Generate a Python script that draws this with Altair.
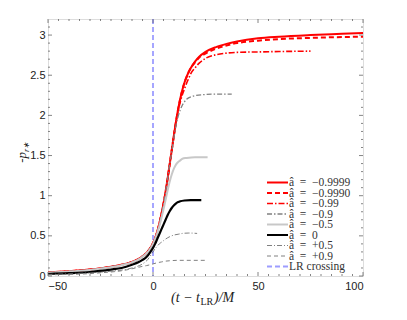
import altair as alt
import pandas as pd

# ---------------- data ----------------
x_m9999 = [-50, -40, -30, -25, -20, -15, -10, -7, -5, -3, -1, 0, 1, 2, 3, 4, 5, 6, 7, 8, 9, 10, 11, 12, 13, 14, 15, 16, 17, 18, 20, 22, 25, 30, 35, 40, 50, 60, 75, 90, 100]
y_m9999 = [0.045, 0.06, 0.08, 0.095, 0.115, 0.14, 0.175, 0.21, 0.245, 0.29, 0.36, 0.41, 0.47, 0.55, 0.65, 0.77, 0.9, 1.05, 1.22, 1.4, 1.58, 1.76, 1.93, 2.08, 2.21, 2.32, 2.41, 2.48, 2.54, 2.59, 2.67, 2.73, 2.79, 2.85, 2.89, 2.92, 2.96, 2.98, 3.0, 3.015, 3.025]

x_m9990 = [-50, -40, -30, -25, -20, -15, -10, -7, -5, -3, -1, 0, 1, 2, 3, 4, 5, 6, 7, 8, 9, 10, 11, 12, 13, 14, 15, 16, 17, 18, 20, 22, 25, 30, 35, 40, 50, 60, 75, 90, 100]
y_m9990 = [0.045, 0.06, 0.08, 0.095, 0.115, 0.14, 0.175, 0.21, 0.245, 0.29, 0.36, 0.41, 0.47, 0.55, 0.65, 0.77, 0.9, 1.05, 1.22, 1.4, 1.58, 1.76, 1.93, 2.08, 2.21, 2.32, 2.41, 2.48, 2.54, 2.59, 2.66, 2.72, 2.77, 2.83, 2.87, 2.9, 2.93, 2.95, 2.965, 2.975, 2.98]

x_m99 = [-50, -40, -30, -25, -20, -15, -10, -7, -5, -3, -1, 0, 1, 2, 3, 4, 5, 6, 7, 8, 9, 10, 11, 12, 13, 14, 15, 16, 17, 18, 20, 22, 25, 30, 35, 40, 50, 60, 75]
y_m99 = [0.045, 0.06, 0.08, 0.095, 0.115, 0.14, 0.175, 0.21, 0.245, 0.29, 0.36, 0.41, 0.47, 0.55, 0.65, 0.77, 0.9, 1.05, 1.22, 1.4, 1.58, 1.76, 1.92, 2.06, 2.17, 2.26, 2.33, 2.40, 2.46, 2.52, 2.59, 2.65, 2.71, 2.755, 2.775, 2.785, 2.79, 2.795, 2.80]

x_m9 = [-50, -40, -30, -25, -20, -15, -10, -7, -5, -3, -1, 0, 1, 2, 3, 4, 5, 6, 7, 8, 9, 10, 11, 12, 13, 14, 15, 16, 18, 20, 25, 30, 37.5]
y_m9 = [0.045, 0.06, 0.08, 0.095, 0.115, 0.14, 0.175, 0.21, 0.245, 0.29, 0.36, 0.41, 0.47, 0.55, 0.65, 0.77, 0.9, 1.05, 1.22, 1.4, 1.56, 1.73, 1.88, 1.99, 2.07, 2.13, 2.17, 2.2, 2.23, 2.245, 2.26, 2.265, 2.265]

x_m5 = [-50, -40, -30, -25, -20, -15, -10, -7, -5, -3, -1, 0, 1, 2, 3, 4, 5, 6, 7, 8, 9, 10, 11, 12, 13, 14, 16, 20, 26]
y_m5 = [0.04, 0.055, 0.075, 0.09, 0.11, 0.135, 0.17, 0.205, 0.24, 0.285, 0.35, 0.40, 0.46, 0.53, 0.62, 0.72, 0.83, 0.95, 1.07, 1.18, 1.27, 1.34, 1.39, 1.42, 1.44, 1.46, 1.47, 1.48, 1.48]

x_0 = [-50, -40, -30, -25, -20, -15, -10, -7, -5, -3, -1, 0, 1, 2, 3, 4, 5, 6, 7, 8, 9, 10, 11, 12, 13, 15, 18, 23]
y_0 = [0.025, 0.035, 0.05, 0.063, 0.08, 0.1, 0.14, 0.17, 0.2, 0.24, 0.31, 0.35, 0.4, 0.46, 0.52, 0.58, 0.64, 0.7, 0.76, 0.81, 0.85, 0.88, 0.905, 0.92, 0.93, 0.94, 0.945, 0.945]

x_p5 = [-50, -40, -30, -20, -10, -5, -3, -1, 0, 1, 2, 3, 4, 5, 6, 8, 10, 12, 14, 17, 21]
y_p5 = [0.02, 0.03, 0.04, 0.06, 0.1, 0.15, 0.19, 0.26, 0.3, 0.34, 0.37, 0.4, 0.42, 0.44, 0.46, 0.49, 0.51, 0.52, 0.53, 0.535, 0.53]

x_p9 = [-50, -40, -30, -25, -20, -15, -10, -5, -3, 0, 2, 4, 6, 8, 12, 18, 25]
y_p9 = [0.015, 0.02, 0.03, 0.04, 0.05, 0.065, 0.09, 0.12, 0.13, 0.15, 0.165, 0.175, 0.185, 0.19, 0.195, 0.195, 0.195]

lr_x = [0]

legend_labels = ["â\u2002=\u2002−0.9999", "â\u2002=\u2002−0.9990", "â\u2002=\u2002−0.99",
                 "â\u2002=\u2002−0.9", "â\u2002=\u2002−0.5", "â\u2002=\u20020",
                 "â\u2002=\u2002+0.5", "â\u2002=\u2002+0.9", "LR crossing"]

x_major = [-50, 0, 50, 100]
x_minor = [-45, -40, -35, -30, -25, -20, -15, -10, -5, 5, 10, 15, 20, 25, 30, 35, 40, 45,
           55, 60, 65, 70, 75, 80, 85, 90, 95]
y_major = [0, 0.5, 1, 1.5, 2, 2.5, 3]
y_minor = [0.1, 0.2, 0.3, 0.4, 0.6, 0.7, 0.8, 0.9, 1.1, 1.2, 1.3, 1.4, 1.6, 1.7, 1.8, 1.9,
           2.1, 2.2, 2.3, 2.4, 2.6, 2.7, 2.8, 2.9, 3.1]

# ---------------- styles ----------------
W, H = 315, 257
xs = alt.Scale(domain=[-50, 100], nice=False, zero=False)
ys = alt.Scale(domain=[0, 3.2], nice=False, zero=False)
xa = alt.Axis(values=x_major, ticks=False, domain=False, grid=False,
              labelFont="Liberation Sans", labelFontSize=11, labelColor="#222",
              labelPadding=4, title=None)
ya = alt.Axis(values=y_major, format="~g", ticks=False, domain=False, grid=False,
              labelFont="Liberation Sans", labelFontSize=11, labelColor="#222",
              labelPadding=3, title=None)
X = lambda f: alt.X(f, scale=xs, axis=xa)
Y = lambda f: alt.Y(f, scale=ys, axis=ya)

series = [
    (x_m9999, y_m9999, "#ff0000", 2.0, None),
    (x_m9990, y_m9990, "#ff0000", 2.0, [5, 3]),
    (x_m99, y_m99, "#ff0000", 1.6, [6, 2, 1.5, 2]),
    (x_m9, y_m9, "#808080", 1.3, [5, 2, 1.5, 2]),
    (x_m5, y_m5, "#c8c8c8", 2.0, None),
    (x_0, y_0, "#000000", 2.2, None),
    (x_p5, y_p5, "#606060", 0.8, [5, 2, 1, 2]),
    (x_p9, y_p9, "#808080", 1.0, [4, 3]),
]
lr_style = ("#9d9dff", 1.8, [5, 3])

layers = []

# LR crossing vertical line
layers.append(
    alt.Chart(pd.DataFrame({"x": lr_x}))
    .mark_rule(color=lr_style[0], strokeWidth=lr_style[1], strokeDash=lr_style[2])
    .encode(x=X("x:Q"), y=alt.value(0), y2=alt.value(H))
)

for xv, yv, col, sw, dash in series:
    df = pd.DataFrame({"x": xv, "y": yv})
    kw = dict(color=col, strokeWidth=sw, clip=True, interpolate="monotone")
    if dash:
        kw["strokeDash"] = dash
    layers.append(alt.Chart(df).mark_line(**kw).encode(x=X("x:Q"), y=Y("y:Q")))

# inward ticks on all four sides
tick_col = "#666"
def xticks(vals, ln):
    d = pd.DataFrame({"x": vals})
    b = alt.Chart(d).mark_rule(color=tick_col, strokeWidth=0.8)
    return [
        b.encode(x=X("x:Q"), y=alt.value(H), y2=alt.value(H - ln)),
        b.encode(x=X("x:Q"), y=alt.value(0), y2=alt.value(ln)),
    ]
def yticks(vals, ln):
    d = pd.DataFrame({"y": vals})
    b = alt.Chart(d).mark_rule(color=tick_col, strokeWidth=0.8)
    return [
        b.encode(y=Y("y:Q"), x=alt.value(0), x2=alt.value(ln)),
        b.encode(y=Y("y:Q"), x=alt.value(W), x2=alt.value(W - ln)),
    ]
layers += xticks(x_major, 4) + xticks(x_minor, 2) + yticks(y_major, 4) + yticks(y_minor, 2)

# legend
leg_styles = [(c, w, d) for (_, _, c, w, d) in series] + [lr_style]
y0, dyl = 163.5, 10.5
for i, (lab, (col, sw, dash)) in enumerate(zip(legend_labels, leg_styles)):
    yy = y0 + dyl * i
    kw = dict(color=col, strokeWidth=min(sw, 2.0))
    if dash:
        kw["strokeDash"] = dash
    layers.append(alt.Chart(pd.DataFrame({"l": [lab]})).mark_rule(**kw).encode(
        x=alt.value(219), x2=alt.value(240), y=alt.value(yy)))
    layers.append(alt.Chart(pd.DataFrame({"l": [lab]})).mark_text(
        align="left", baseline="middle", font="Liberation Serif", fontSize=11.5,
        color="#333").encode(x=alt.value(241), y=alt.value(yy + 0.5), text="l:N"))

# axis titles (mixed styles built from text marks)
tdf = pd.DataFrame({"a": [0]})
layers.append(alt.Chart(tdf).mark_text(text="(t − t", align="right", baseline="alphabetic",
              font="Liberation Serif", fontStyle="italic", fontSize=14, color="#222")
              .encode(x=alt.value(152), y=alt.value(283)))
layers.append(alt.Chart(tdf).mark_text(text="LR", align="left", baseline="alphabetic",
              font="Liberation Serif", fontSize=10, color="#222")
              .encode(x=alt.value(152.5), y=alt.value(286)))
layers.append(alt.Chart(tdf).mark_text(text=")/M", align="left", baseline="alphabetic",
              font="Liberation Serif", fontStyle="italic", fontSize=14, color="#222")
              .encode(x=alt.value(166), y=alt.value(283)))
layers.append(alt.Chart(tdf).mark_text(text="-p", align="right", baseline="alphabetic", angle=270,
              font="Liberation Serif", fontStyle="italic", fontSize=13, color="#222")
              .encode(x=alt.value(-22), y=alt.value(133)))
layers.append(alt.Chart(tdf).mark_text(text="r∗", align="left", baseline="alphabetic", angle=270,
              font="Liberation Serif", fontStyle="italic", fontSize=8, color="#222", dy=3)
              .encode(x=alt.value(-22), y=alt.value(133)))

chart = (
    alt.layer(*layers)
    .properties(width=W, height=H, autosize=alt.AutoSizeParams(type="none"),
                padding={"left": 40, "top": 11, "right": 36, "bottom": 36})
    .configure_view(stroke="#555", strokeWidth=1)
    .configure(background="white")
)

chart.save("out.html", embed_options={"renderer": "svg", "actions": False})
